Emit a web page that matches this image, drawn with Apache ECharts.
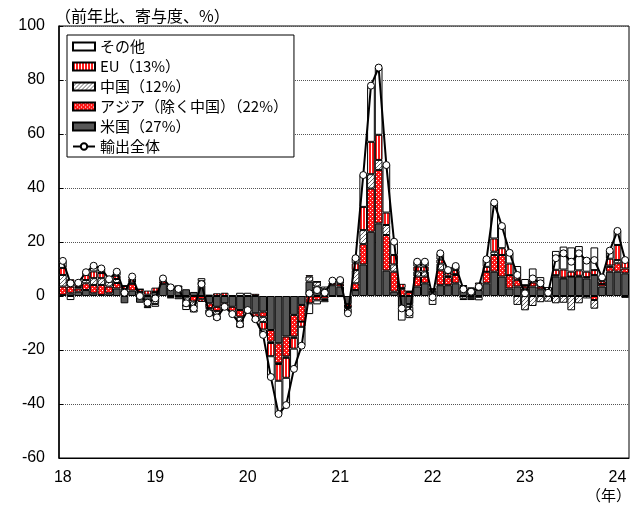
<!DOCTYPE html>
<html>
<head>
<meta charset="utf-8">
<script src="https://cdn.jsdelivr.net/npm/echarts@6/dist/echarts.min.js"></script>
<style>
html, body { margin: 0; padding: 0; background: #fff; }
#chart { width: 631px; height: 510px; }
</style>
</head>
<body>
<div id="chart"></div>
<script>
// 月次 2018/1 - 2024/2
const years = ['2018', '2019', '2020', '2021', '2022', '2023', '2024']
const yearLabels = ['18', '19', '20', '21', '22', '23', '24']
const lastYearMonths = 2

// 寄与度（%ポイント）
const us = [0.4, 1.0, 1.6, 2.2, 1.0, 0.4, 1.0, 2.8, -2.7, 2.0, -2.5, -3.5,
  1.5, 4.5, 3.0, 3.5, 2.5, 1.5, 4.0, -2.7, -4.0, -2.7, -4.0, -5.2,
  -5.0, -6.4, -5.8, -12.6, -17.5, -15.0, -7.0, -3.3, 5.3, 3.5, 2.5, 4.0,
  3.5, -3.0, 2.2, 11.7, 23.8, 26.9, 9.4, 1.6, -4.5, -3.0, 3.5, 4.7,
  2.0, 4.0, 4.0, 4.7, 2.2, 2.0, 2.2, 4.7, 9.0, 7.2, 2.8, 3.5,
  2.8, 3.5, 2.5, 1.0, 7.2, 6.5, 7.2, 7.2, 6.5, 7.8, 3.5, 9.0,
  9.0, 8.4]
const asia = [3.1, 2.5, 1.2, 2.5, 3.1, 3.7, 2.5, 2.0, 2.0, 2.5, 1.0, 0.5,
  0.1, 1.0, 0.5, 0.0, -0.5, -2.0, -1.2, -1.8, -1.6, -1.3, -1.8, -2.5,
  -0.7, -1.5, -1.9, -4.3, -7.4, -7.4, -8.0, -6.2, -2.7, -1.6, -1.0, 1.0,
  1.0, -1.0, 2.5, 7.5, 16.0, 19.8, 13.2, 7.4, 2.5, 1.5, 3.7, 2.5,
  0.5, 5.5, 3.0, 3.1, 1.5, 0.8, 2.0, 4.3, 6.2, 8.0, 4.9, 2.5,
  1.0, 1.5, 1.0, 0.5, 0.5, 0.3, 0.0, 0.3, 0.5, -1.5, 1.0, 1.8,
  3.1, 1.8]
const china = [4.3, 1.0, 0.5, 1.2, 2.5, 2.5, 1.8, 1.5, 0.5, 0.5, 0.5, -0.5,
  -3.0, 0.5, -0.5, -0.5, -3.0, -2.5, 1.5, -0.5, -1.5, -0.5, -0.5, -2.0,
  -0.3, -0.5, -1.9, -0.5, -0.3, -0.5, -0.5, 0.0, 1.9, 1.8, 1.0, 0.5,
  1.5, 0.0, 4.9, 5.2, 5.3, 3.7, 3.7, 2.7, 0.5, -1.0, 1.9, 1.9,
  -0.5, 2.5, 0.5, 0.3, -1.0, -0.7, -0.3, 0.0, 1.2, 0.0, 0.0, -3.3,
  -5.3, -3.7, -2.3, -2.1, -2.7, -2.5, -5.3, -2.7, -0.9, -3.2, 0.0, 0.5,
  1.2, -0.7]
const eu = [2.6, 1.7, 1.6, 1.9, 2.5, 1.9, 0.3, 1.2, 1.2, 1.5, 1.0, 1.5,
  1.5, 0.5, 0.5, 0.3, 0.0, -0.5, -1.0, 0.5, 1.0, 1.2, 0.3, -2.0,
  -0.4, 0.8, -2.8, -4.9, -6.2, -7.4, -4.0, -1.9, 0.5, 0.0, -0.5, 0.5,
  0.3, -0.5, 2.5, 8.6, 12.0, 9.3, 4.6, 3.5, 1.5, 0.5, 1.8, 1.8,
  0.3, 1.5, 1.0, 1.5, 0.3, 0.3, 0.8, 1.8, 4.9, 2.5, 4.3, 1.8,
  0.2, 1.5, 0.5, 0.3, 2.0, 3.0, 1.8, 2.0, 2.0, 1.8, 1.0, 2.5,
  5.6, 3.3]
const other = [2.6, -1.5, 0.0, 1.0, 2.1, 1.7, 0.6, 1.5, 0.2, 0.7, 0.0, -0.5,
  -1.0, 0.0, -0.3, -0.7, -1.7, -1.1, 1.1, -1.9, -1.8, -0.7, -0.7, 1.2,
  1.2, -1.0, -2.0, -7.7, -12.3, -10.1, -7.5, -7.0, -4.0, -1.5, -0.8, -0.3,
  -0.4, -1.9, 1.9, 11.8, 20.8, 24.9, 17.6, 4.9, -4.6, -4.2, 1.8, 1.8,
  -2.8, 2.3, 1.1, 1.5, -0.5, -0.8, -1.3, 2.8, 13.3, 8.2, 4.0, 3.3,
  2.3, 3.7, 3.0, 1.5, 7.0, 8.5, 9.0, 9.0, 5.0, 8.4, 1.4, 3.0,
  5.2, 0.5]
// 輸出全体（前年比、%）
const total = [13.0, 4.7, 4.9, 8.8, 11.2, 10.2, 6.2, 9.0, 1.2, 7.2, 0.0, -2.5,
  -0.9, 6.5, 3.2, 2.6, -2.7, -4.6, 4.4, -6.4, -7.9, -4.0, -6.7, -10.5,
  -5.2, -8.6, -14.4, -30.0, -43.7, -40.4, -27.0, -18.4, 1.0, 2.2, 1.2, 5.7,
  5.9, -6.4, 14.0, 44.8, 77.9, 84.6, 48.5, 20.1, -4.6, -6.2, 12.7, 12.7,
  -0.5, 15.8, 9.6, 11.1, 2.5, 1.6, 3.4, 13.6, 34.6, 25.9, 16.0, 7.8,
  1.0, 6.5, 4.7, 1.2, 14.0, 15.8, 12.7, 15.8, 13.1, 13.3, 6.9, 16.8,
  24.1, 13.3]

const months = []
years.forEach((y, i) => {
  const n = i === years.length - 1 ? lastYearMonths : 12
  for (let m = 1; m <= n; m++) months.push(y + '/' + m)
})

// 塗りパターン
function pattern(w, h, draw) {
  const c = document.createElement('canvas')
  c.width = w
  c.height = h
  const ctx = c.getContext('2d')
  draw(ctx)
  return { image: c, repeat: 'repeat' }
}
const RED = '#ff1a1a'
const euFill = pattern(3, 1, ctx => {
  ctx.fillStyle = '#fff'; ctx.fillRect(0, 0, 3, 1)
  ctx.fillStyle = RED; ctx.fillRect(0, 0, 2, 1)
})
const asiaFill = pattern(4, 4, ctx => {
  ctx.fillStyle = RED; ctx.fillRect(0, 0, 4, 4)
  ctx.fillStyle = '#fff'
  ctx.fillRect(0, 0, 1, 1)
  ctx.fillRect(2, 2, 1, 1)
})
const chinaFill = pattern(4, 4, ctx => {
  ctx.fillStyle = '#fff'; ctx.fillRect(0, 0, 4, 4)
  ctx.fillStyle = '#6a6a6a'
  ctx.fillRect(3, 0, 1, 1)
  ctx.fillRect(2, 1, 1, 1)
  ctx.fillRect(1, 2, 1, 1)
  ctx.fillRect(0, 3, 1, 1)
})

const FONT_NUM = 'Liberation Sans'
const FONT_JP = 'Noto Sans CJK JP'

function barSeries(name, data, color) {
  return {
    name: name,
    type: 'bar',
    stack: 'total',
    data: data,
    barCategoryGap: '0%',
    itemStyle: { color: color, borderColor: '#000', borderWidth: 1 }
  }
}

const chart = echarts.init(document.getElementById('chart'))
chart.setOption({
  animation: false,
  title: {
    text: '（前年比、寄与度、%）',
    left: 50,
    top: 3,
    textStyle: { fontFamily: FONT_JP, fontSize: 16, fontWeight: 'normal', color: '#000' }
  },
  graphic: [{
    type: 'text',
    right: 0,
    top: 488,
    style: { text: '（年）', font: '15px "Noto Sans CJK JP"', fill: '#000' }
  }],
  legend: {
    orient: 'vertical',
    left: 67,
    top: 35,
    padding: [4, 6, 3, 5],
    itemGap: 5,
    itemWidth: 22,
    itemHeight: 8,
    backgroundColor: '#fff',
    borderColor: '#000',
    borderWidth: 1,
    z: 10,
    textStyle: { fontFamily: FONT_JP, fontSize: 15, color: '#000' },
    data: [
      { name: 'その他', icon: 'rect' },
      { name: 'EU（13%）', icon: 'rect' },
      { name: '中国（12%）', icon: 'rect' },
      { name: 'アジア（除く中国）（22%）', icon: 'rect' },
      { name: '米国（27%）', icon: 'rect' },
      { name: '輸出全体' }
    ]
  },
  grid: {
    left: 59,
    right: 2,
    top: 26,
    bottom: 52,
    show: true,
    borderColor: '#000',
    borderWidth: 1
  },
  xAxis: {
    type: 'category',
    data: months,
    boundaryGap: true,
    axisLine: { onZero: false, lineStyle: { color: '#000' } },
    axisTick: { show: false },
    axisLabel: {
      interval: (i) => i % 12 === 0,
      formatter: (v, i) => yearLabels[Math.floor(i / 12)],
      fontFamily: FONT_NUM,
      fontSize: 16,
      color: '#000',
      margin: 12
    }
  },
  yAxis: {
    type: 'value',
    min: -60,
    max: 100,
    interval: 20,
    axisLine: { show: true, lineStyle: { color: '#000', width: 1.5 } },
    axisTick: { show: true, inside: true, length: 4, lineStyle: { color: '#000' } },
    axisLabel: { fontFamily: FONT_NUM, fontSize: 16, color: '#000', margin: 14 },
    splitLine: { lineStyle: { type: [1, 1], color: '#555', width: 1 } }
  },
  series: [
    barSeries('米国（27%）', us, '#575757'),
    barSeries('アジア（除く中国）（22%）', asia, asiaFill),
    barSeries('中国（12%）', china, chinaFill),
    barSeries('EU（13%）', eu, euFill),
    barSeries('その他', other, '#fff'),
    {
      name: '輸出全体',
      type: 'line',
      data: total,
      z: 5,
      symbol: 'circle',
      symbolSize: 7,
      showAllSymbol: true,
      lineStyle: { color: '#000', width: 2 },
      itemStyle: { color: '#fff', borderColor: '#000', borderWidth: 1 }
    }
  ]
})
</script>
</body>
</html>
